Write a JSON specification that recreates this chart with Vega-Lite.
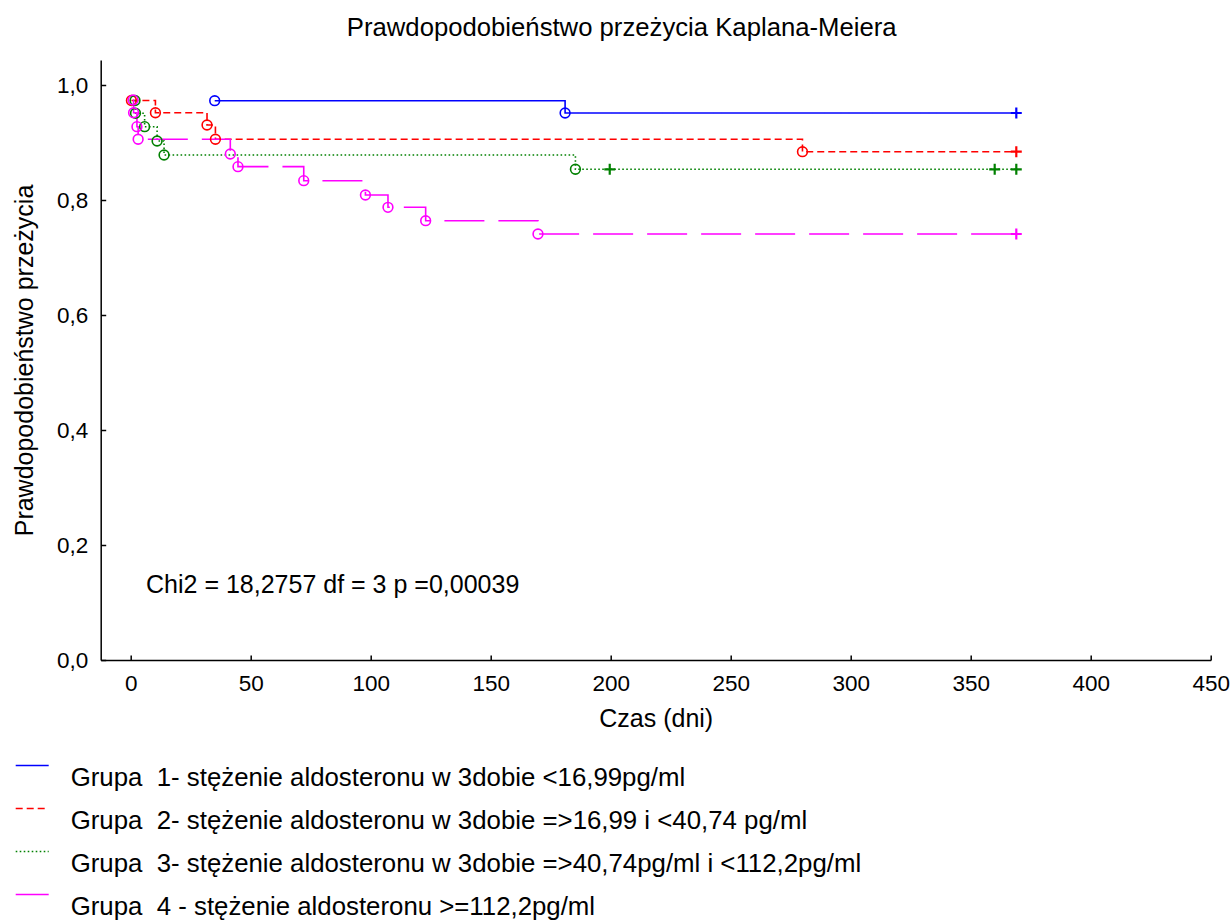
{
  "$schema": "https://vega.github.io/schema/vega-lite/v6.json",
  "width": 1110,
  "height": 600,
  "autosize": "none",
  "padding": {"left": 100.7, "top": 60, "right": 21.3, "bottom": 260},
  "background": "#ffffff",
  "config": {
    "view": {"stroke": null},
    "font": "Liberation Sans",
    "axis": {
      "grid": false,
      "domainColor": "#000000",
      "tickColor": "#000000",
      "labelColor": "#000000",
      "titleColor": "#000000",
      "domainWidth": 1.5,
      "tickWidth": 1.5,
      "tickSize": -5,
      "labelFont": "Liberation Sans",
      "titleFont": "Liberation Sans",
      "labelFontSize": 22.5,
      "titleFontSize": 25,
      "titleFontWeight": "normal"
    },
    "legend": {
      "labelFont": "Liberation Sans",
      "labelColor": "#000000"
    }
  },
  "title": {
    "text": "Prawdopodobieństwo przeżycia Kaplana-Meiera",
    "font": "Liberation Sans",
    "fontSize": 25.7,
    "fontWeight": "normal",
    "color": "#000000",
    "anchor": "middle",
    "offset": 18,
    "dx": -34
  },
  "datasets": {
    "km": [
      {"g": "Grupa\u00a0 1- stężenie aldosteronu w 3dobie <16,99pg/ml", "t": 35, "s": 0.9727, "typ": "event"},
      {"g": "Grupa\u00a0 1- stężenie aldosteronu w 3dobie <16,99pg/ml", "t": 181, "s": 0.9513, "typ": "event"},
      {"g": "Grupa\u00a0 1- stężenie aldosteronu w 3dobie <16,99pg/ml", "t": 369, "s": 0.9513, "typ": "censored"},
      {"g": "Grupa\u00a0 2- stężenie aldosteronu w 3dobie =>16,99 i <40,74 pg/ml", "t": 0.3, "s": 0.973, "typ": "event"},
      {"g": "Grupa\u00a0 2- stężenie aldosteronu w 3dobie =>16,99 i <40,74 pg/ml", "t": 10.3, "s": 0.9518, "typ": "event"},
      {"g": "Grupa\u00a0 2- stężenie aldosteronu w 3dobie =>16,99 i <40,74 pg/ml", "t": 31.8, "s": 0.9304, "typ": "event"},
      {"g": "Grupa\u00a0 2- stężenie aldosteronu w 3dobie =>16,99 i <40,74 pg/ml", "t": 35.3, "s": 0.9056, "typ": "event"},
      {"g": "Grupa\u00a0 2- stężenie aldosteronu w 3dobie =>16,99 i <40,74 pg/ml", "t": 279.9, "s": 0.884, "typ": "event"},
      {"g": "Grupa\u00a0 2- stężenie aldosteronu w 3dobie =>16,99 i <40,74 pg/ml", "t": 369, "s": 0.884, "typ": "censored"},
      {"g": "Grupa\u00a0 3- stężenie aldosteronu w 3dobie =>40,74pg/ml i <112,2pg/ml", "t": 1.8, "s": 0.973, "typ": "event"},
      {"g": "Grupa\u00a0 3- stężenie aldosteronu w 3dobie =>40,74pg/ml i <112,2pg/ml", "t": 2.0, "s": 0.9508, "typ": "event"},
      {"g": "Grupa\u00a0 3- stężenie aldosteronu w 3dobie =>40,74pg/ml i <112,2pg/ml", "t": 5.8, "s": 0.9275, "typ": "event"},
      {"g": "Grupa\u00a0 3- stężenie aldosteronu w 3dobie =>40,74pg/ml i <112,2pg/ml", "t": 11, "s": 0.9026, "typ": "event"},
      {"g": "Grupa\u00a0 3- stężenie aldosteronu w 3dobie =>40,74pg/ml i <112,2pg/ml", "t": 13.9, "s": 0.8783, "typ": "event"},
      {"g": "Grupa\u00a0 3- stężenie aldosteronu w 3dobie =>40,74pg/ml i <112,2pg/ml", "t": 185.3, "s": 0.8534, "typ": "event"},
      {"g": "Grupa\u00a0 3- stężenie aldosteronu w 3dobie =>40,74pg/ml i <112,2pg/ml", "t": 199.6, "s": 0.8534, "typ": "censored"},
      {"g": "Grupa\u00a0 3- stężenie aldosteronu w 3dobie =>40,74pg/ml i <112,2pg/ml", "t": 360, "s": 0.8534, "typ": "censored"},
      {"g": "Grupa\u00a0 3- stężenie aldosteronu w 3dobie =>40,74pg/ml i <112,2pg/ml", "t": 369, "s": 0.8534, "typ": "censored"},
      {"g": "Grupa\u00a0 4 - stężenie aldosteronu >=112,2pg/ml", "t": 1.0, "s": 0.9739, "typ": "event"},
      {"g": "Grupa\u00a0 4 - stężenie aldosteronu >=112,2pg/ml", "t": 1.2, "s": 0.9518, "typ": "event"},
      {"g": "Grupa\u00a0 4 - stężenie aldosteronu >=112,2pg/ml", "t": 2.6, "s": 0.9275, "typ": "event"},
      {"g": "Grupa\u00a0 4 - stężenie aldosteronu >=112,2pg/ml", "t": 3.1, "s": 0.9056, "typ": "event"},
      {"g": "Grupa\u00a0 4 - stężenie aldosteronu >=112,2pg/ml", "t": 41.5, "s": 0.88, "typ": "event"},
      {"g": "Grupa\u00a0 4 - stężenie aldosteronu >=112,2pg/ml", "t": 44.7, "s": 0.858, "typ": "event"},
      {"g": "Grupa\u00a0 4 - stężenie aldosteronu >=112,2pg/ml", "t": 72.1, "s": 0.8336, "typ": "event"},
      {"g": "Grupa\u00a0 4 - stężenie aldosteronu >=112,2pg/ml", "t": 97.8, "s": 0.8087, "typ": "event"},
      {"g": "Grupa\u00a0 4 - stężenie aldosteronu >=112,2pg/ml", "t": 107.2, "s": 0.7873, "typ": "event"},
      {"g": "Grupa\u00a0 4 - stężenie aldosteronu >=112,2pg/ml", "t": 122.9, "s": 0.764, "typ": "event"},
      {"g": "Grupa\u00a0 4 - stężenie aldosteronu >=112,2pg/ml", "t": 169.7, "s": 0.7409, "typ": "event"},
      {"g": "Grupa\u00a0 4 - stężenie aldosteronu >=112,2pg/ml", "t": 369, "s": 0.7409, "typ": "censored"}
    ],
    "note": [
      {"t": 6.4, "s": 0.13, "label": "Chi2 = 18,2757 df = 3 p =0,00039"}
    ]
  },
  "layer": [
    {
      "data": {"name": "km"},
      "mark": {"type": "line", "interpolate": "step-after", "strokeWidth": 1.6},
      "encoding": {
        "x": {
          "field": "t", "type": "quantitative",
          "scale": {"domain": [-12.5, 450], "nice": false, "zero": false},
          "axis": {
            "values": [0, 50, 100, 150, 200, 250, 300, 350, 400, 450],
            "title": "Czas (dni)",
            "labelPadding": 17,
            "titlePadding": 12,
            "labelFlush": false
          }
        },
        "y": {
          "field": "s", "type": "quantitative",
          "scale": {"domain": [0, 1.04348], "nice": false, "zero": false},
          "axis": {
            "values": [0, 0.2, 0.4, 0.6, 0.8, 1.0],
            "labelExpr": "replace(format(datum.value, '.1f'), '.', ',')",
            "title": "Prawdopodobieństwo przeżycia",
            "labelPadding": 18,
            "titlePadding": 19,
            "labelFlush": false
          }
        },
        "color": {
          "field": "g", "type": "nominal",
          "scale": {
            "domain": [
              "Grupa\u00a0 1- stężenie aldosteronu w 3dobie <16,99pg/ml",
              "Grupa\u00a0 2- stężenie aldosteronu w 3dobie =>16,99 i <40,74 pg/ml",
              "Grupa\u00a0 3- stężenie aldosteronu w 3dobie =>40,74pg/ml i <112,2pg/ml",
              "Grupa\u00a0 4 - stężenie aldosteronu >=112,2pg/ml"
            ],
            "range": ["#0000ff", "#ff0000", "#008000", "#ff00ff"]
          },
          "legend": {
            "title": null,
            "orient": "none",
            "legendX": -86,
            "legendY": 688,
            "direction": "vertical",
            "symbolType": "stroke",
            "symbolSize": 1089,
            "symbolStrokeWidth": 1.5,
            "labelFontSize": 25.8,
            "labelBaseline": "top",
            "labelOffset": 21,
            "labelLimit": 1200,
            "rowPadding": -9,
            "padding": 0
          }
        },
        "strokeDash": {
          "field": "g", "type": "nominal",
          "scale": {
            "domain": [
              "Grupa\u00a0 1- stężenie aldosteronu w 3dobie <16,99pg/ml",
              "Grupa\u00a0 2- stężenie aldosteronu w 3dobie =>16,99 i <40,74 pg/ml",
              "Grupa\u00a0 3- stężenie aldosteronu w 3dobie =>40,74pg/ml i <112,2pg/ml",
              "Grupa\u00a0 4 - stężenie aldosteronu >=112,2pg/ml"
            ],
            "range": [[1, 0], [7, 4], [1.6, 2.4], [40, 14]]
          },
          "legend": {
            "title": null,
            "orient": "none",
            "legendX": -86,
            "legendY": 688,
            "direction": "vertical",
            "symbolType": "stroke",
            "symbolSize": 1089,
            "symbolStrokeWidth": 1.5,
            "labelFontSize": 25.8,
            "labelBaseline": "top",
            "labelOffset": 21,
            "labelLimit": 1200,
            "rowPadding": -9,
            "padding": 0
          }
        }
      }
    },
    {
      "data": {"name": "km"},
      "transform": [{"filter": "datum.typ === 'event'"}],
      "mark": {"type": "point", "shape": "circle", "filled": false, "size": 95, "strokeWidth": 1.6, "opacity": 1},
      "encoding": {
        "x": {"field": "t", "type": "quantitative"},
        "y": {"field": "s", "type": "quantitative"},
        "stroke": {
          "field": "g", "type": "nominal",
          "scale": {
            "domain": [
              "Grupa\u00a0 1- stężenie aldosteronu w 3dobie <16,99pg/ml",
              "Grupa\u00a0 2- stężenie aldosteronu w 3dobie =>16,99 i <40,74 pg/ml",
              "Grupa\u00a0 3- stężenie aldosteronu w 3dobie =>40,74pg/ml i <112,2pg/ml",
              "Grupa\u00a0 4 - stężenie aldosteronu >=112,2pg/ml"
            ],
            "range": ["#0000ff", "#ff0000", "#008000", "#ff00ff"]
          },
          "legend": null
        }
      }
    },
    {
      "data": {"name": "km"},
      "transform": [{"filter": "datum.typ === 'censored'"}],
      "mark": {"type": "point", "shape": "M-1,0H1M0,-1V1", "filled": false, "size": 120, "strokeWidth": 2.2, "opacity": 1},
      "encoding": {
        "x": {"field": "t", "type": "quantitative"},
        "y": {"field": "s", "type": "quantitative"},
        "stroke": {
          "field": "g", "type": "nominal",
          "legend": null
        }
      }
    },
    {
      "data": {"name": "note"},
      "mark": {"type": "text", "align": "left", "baseline": "middle", "fontSize": 25, "font": "Liberation Sans", "color": "#000000"},
      "encoding": {
        "x": {"field": "t", "type": "quantitative"},
        "y": {"field": "s", "type": "quantitative"},
        "text": {"field": "label"}
      }
    }
  ]
}
